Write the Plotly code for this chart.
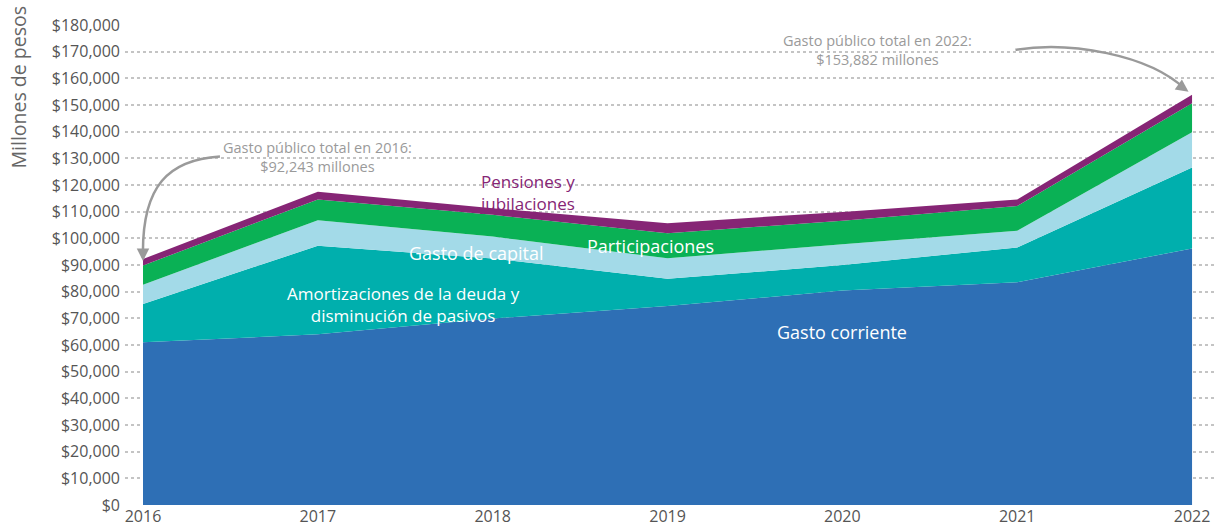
"""Gasto público total por tipo de gasto, 2016–2022 (millones de pesos)."""

import plotly.graph_objects as go

YEARS = [2016, 2017, 2018, 2019, 2020, 2021, 2022]

GASTO_CORRIENTE = [61000, 64000, 69900, 74600, 80400, 83500, 96200]
AMORTIZACIONES = [14400, 33200, 22500, 10200, 9600, 13100, 30400]
GASTO_CAPITAL = [7200, 9600, 8300, 7700, 7800, 6200, 13200]
PARTICIPACIONES = [7200, 7800, 8100, 9400, 8800, 9300, 10900]
PENSIONES = [2443, 2900, 2500, 3800, 3300, 2500, 3182]

Y_TICKS = list(range(0, 180001, 10000))
Y_TICK_TEXT = [f"${v:,}" for v in Y_TICKS]

SERIES = [
    ("Gasto corriente", GASTO_CORRIENTE, "#2E6FB5"),
    ("Amortizaciones de la deuda y disminución de pasivos", AMORTIZACIONES, "#00AFAD"),
    ("Gasto de capital", GASTO_CAPITAL, "#A3DAE8"),
    ("Participaciones", PARTICIPACIONES, "#0AB155"),
    ("Pensiones y jubilaciones", PENSIONES, "#862575"),
]

FONT = "Open Sans"
GRAY_TEXT = "#9a9a9a"
ARROW = "#9a9a9a"

fig = go.Figure()
for name, vals, color in SERIES:
    fig.add_trace(
        go.Scatter(
            x=YEARS,
            y=vals,
            name=name,
            mode="lines",
            stackgroup="gasto",
            line=dict(width=0, color=color),
            fillcolor=color,
            showlegend=False,
            hovertemplate="%{y:,}<extra>" + name + "</extra>",
        )
    )

# in-area labels
labels = [
    (2020.0, 65000, "Gasto corriente", "white", 18),
    (2017.49, 75200, "Amortizaciones de la deuda y<br>disminución de pasivos", "white", 17),
    (2017.91, 94500, "Gasto de capital", "white", 18),
    (2018.9, 97000, "Participaciones", "white", 18),
    (2018.2, 117200, "Pensiones y<br>jubilaciones", "#862575", 17),
]
for x, y, txt, col, size in labels:
    fig.add_annotation(
        x=x, y=y, text=txt, showarrow=False,
        font=dict(family=FONT, size=size, color=col),
        align="center",
    )

# totals callouts
fig.add_annotation(
    x=2017.0, y=130500, text="Gasto público total en 2016:<br>$92,243 millones",
    showarrow=False, font=dict(family=FONT, size=14.5, color=GRAY_TEXT), align="center",
)
fig.add_annotation(
    x=2020.2, y=170500, text="Gasto público total en 2022:<br>$153,882 millones",
    showarrow=False, font=dict(family=FONT, size=14.5, color=GRAY_TEXT), align="center",
)

# curved arrows
fig.add_shape(
    type="path",
    path="M 2016.44,130700 C 2016.15,129500 2015.99,120000 2016.0,92800",
    line=dict(color=ARROW, width=2.5),
)
fig.add_annotation(
    x=2016.0, y=91500, ax=0, ay=-12, text="", showarrow=True,
    arrowhead=2, arrowsize=1, arrowwidth=2.5, arrowcolor=ARROW,
)
fig.add_shape(
    type="path",
    path="M 2020.99,170700 C 2021.3,174000 2021.75,169000 2021.96,156000",
    line=dict(color=ARROW, width=2.5),
)
fig.add_annotation(
    x=2021.98, y=155000, ax=-10, ay=-7, text="", showarrow=True,
    arrowhead=2, arrowsize=1, arrowwidth=2.5, arrowcolor=ARROW,
)

# y-axis title
fig.add_annotation(
    xref="paper", yref="paper", x=-0.098, y=0.87, text="Millones de pesos",
    textangle=-90, showarrow=False, xanchor="center", yanchor="middle",
    font=dict(family=FONT, size=19.5, color="#666666"),
)

fig.update_xaxes(
    range=[2015.897, 2022.137],
    tickvals=YEARS,
    ticktext=[str(y) for y in YEARS],
    showgrid=False, zeroline=False, showline=False,
    tickfont=dict(family=FONT, size=16, color="#555555"),
    fixedrange=True,
)
fig.update_yaxes(
    range=[0, 180000],
    tickvals=Y_TICKS,
    ticktext=Y_TICK_TEXT,
    showgrid=True, gridcolor="#c4c4c4", griddash="dot", gridwidth=1.5,
    zeroline=False, showline=False,
    layer="above traces",
    ticklabelstandoff=4,
    tickfont=dict(family=FONT, size=16, color="#555555"),
    fixedrange=True,
)
fig.update_layout(
    width=1216, height=527,
    margin=dict(l=125, r=0, t=25, b=20),
    plot_bgcolor="white", paper_bgcolor="white",
    font=dict(family=FONT),
    hovermode="x unified",
)

fig.write_html(
    "out.html",
    config={"displayModeBar": False},
    post_script="document.body.style.margin='0';",
)
